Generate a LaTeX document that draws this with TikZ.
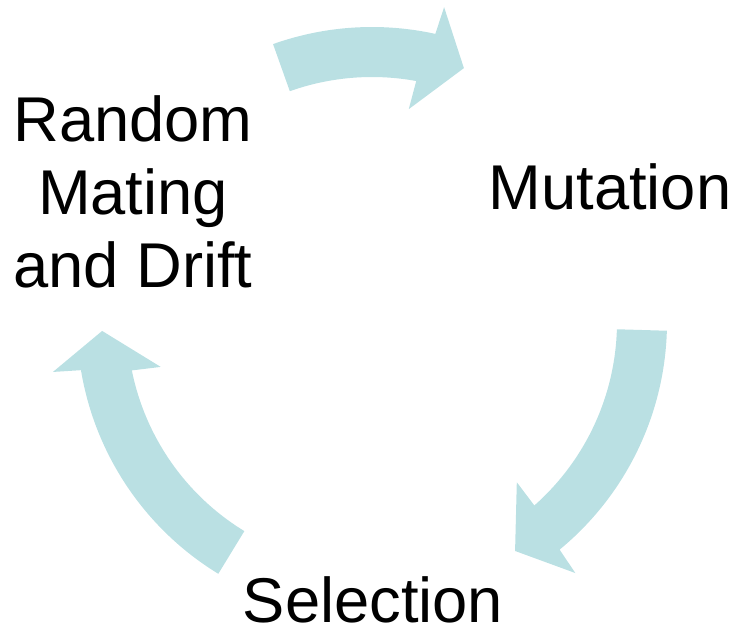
\documentclass[tikz,border=0pt]{standalone}
\usepackage{fontspec}
\setmainfont{Liberation Sans}
\usetikzlibrary{calc}
\definecolor{cyclefill}{RGB}{186,224,227}

\begin{document}
\begin{tikzpicture}[x=0.025cm, y=0.025cm,
    every node/.style={inner sep=0pt, font=\fontsize{45}{52}\selectfont},
    stage/.style={align=center},
    cyclearrow/.style={fill=cyclefill}]
        \useasboundingbox (0,-628) rectangle (737,0);
        % Hub of the cycle
        \coordinate (hub) at (372,-322);

        % Curved block arrows (tail angle / notch angle), clockwise
        \foreach \tail/\notch in {109.6/77.6, -1.7/-50.5, 238.6/189.4} {
          \fill[cyclearrow] ($(hub)+(\tail:295)$)
            arc[start angle=\tail, end angle=\notch, radius=295]
            -- ($(hub)+(\notch-0.5:323)$) -- ($(hub)+(\notch-7.5:270)$)
            -- ($(hub)+(\notch+2.6:216)$) -- ($(hub)+(\notch+2:245)$)
            arc[start angle=\notch+2, end angle=\tail, radius=245] -- cycle;
        }

        % Stages of the cycle
        \node[stage, anchor=base] (mutation) at ([shift={(238,112)}]hub) {Mutation};
        \node[stage, anchor=base] (selection) at ([shift={(1,-300)}]hub) {Selection};
        \node[stage, anchor=north] (drift) at ([shift={(-239,227)}]hub)
        {Random\\ Mating\\ and Drift};
      \end{tikzpicture}
\end{document}
